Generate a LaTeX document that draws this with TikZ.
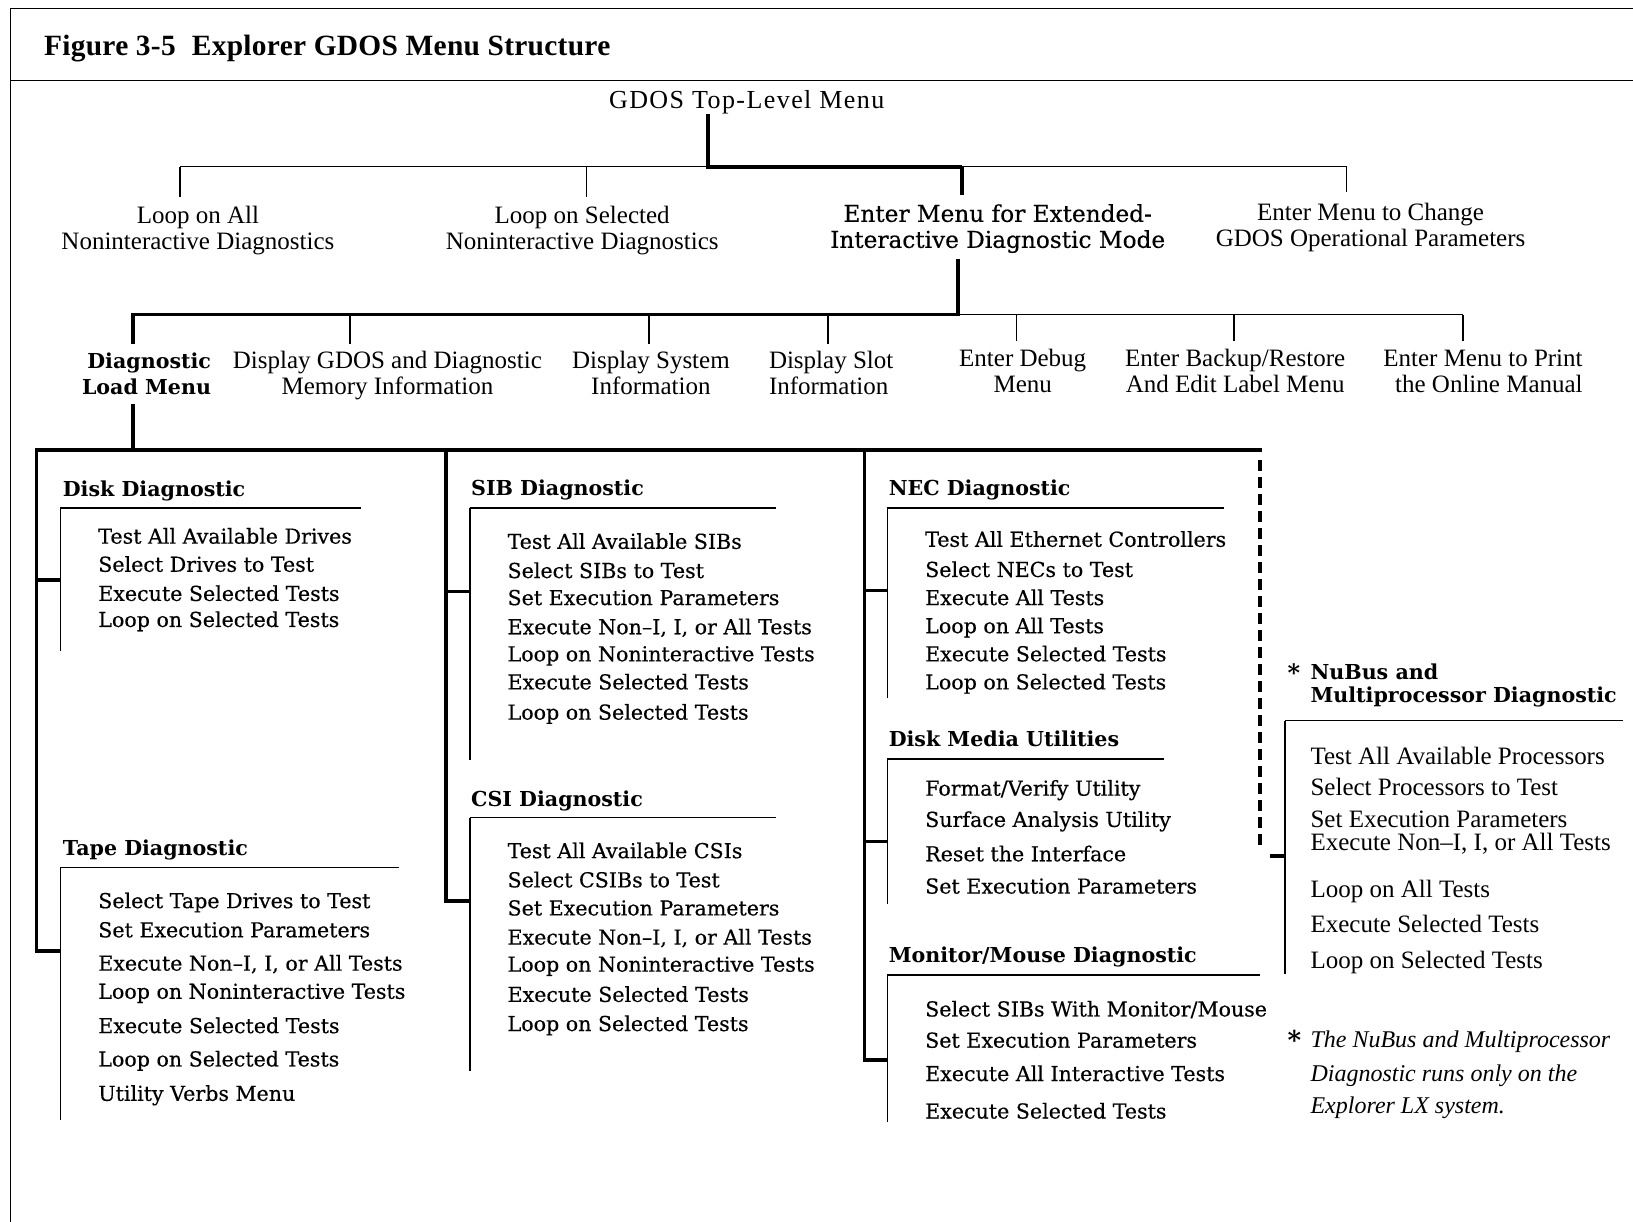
\documentclass[tikz,border=0pt]{standalone}
\usepackage{fontspec}
\setmainfont{Liberation Serif}
\newfontfamily\cent{DejaVu Serif}
\newfontfamily\centi[FakeBold=0.4]{DejaVu Serif}
\newfontfamily\rootf[LetterSpace=5.5]{Liberation Serif}
\newfontfamily\titlef[LetterSpace=1]{Liberation Serif}
\newcommand\twol[2]{#1\strut\\#2\strut}
\tikzset{
  x=0.52075pt, y=-0.52075pt,
  thinln/.style={line width=0.8pt},
  thickln/.style={line width=1.9pt},
  framel/.style={line width=0.6pt},
  dashln/.style={line width=2pt, dash pattern=on 5.5pt off 3pt},
  tms/.style={inner sep=0pt, align=center, font=\fontsize{12.5}{13}\selectfont},
  ctm/.style={inner sep=0pt, align=center, font=\centi\fontsize{11.6}{13}\selectfont},
  ctb/.style={inner sep=0pt, font=\cent\bfseries\fontsize{10.3}{13}\selectfont},
  hd/.style={inner sep=0pt, anchor=base west, font=\cent\bfseries\fontsize{10.3}{12}\selectfont},
  itm/.style={inner sep=0pt, anchor=base west, font=\centi\fontsize{10.3}{12}\selectfont},
  nit/.style={inner sep=0pt, anchor=base west, font=\fontsize{12.5}{13}\selectfont},
  fnt/.style={inner sep=0pt, anchor=base west, font=\itshape\fontsize{12}{13}\selectfont},
}
\begin{document}
\begin{tikzpicture}
\useasboundingbox (0,0) rectangle (1568,1173);
% frame
\draw[framel] (10,1173) -- (10,8) -- (1568,8);
\draw[framel] (10,77) -- (1568,77);
\node[anchor=base west, inner sep=0pt, font=\titlef\bfseries\fontsize{14.7}{16}\selectfont] (title) at (42,53) {Figure 3-5\hspace{0.55em}Explorer GDOS Menu Structure};

% root
\node[anchor=base, inner sep=0pt, font=\rootf\fontsize{13}{14}\selectfont] (root) at (717,104) {GDOS Top-Level Menu};

% level 1
\node[tms] (l1a) at (190,222.5) {\twol{Loop on All}{Noninteractive Diagnostics}};
\node[tms] (l1b) at (559,222.5) {\twol{Loop on Selected}{Noninteractive Diagnostics}};
\node[ctm] (l1c) at (958,220.5) {\twol{Enter Menu for Extended-}{Interactive Diagnostic Mode}};
\node[tms] (l1d) at (1316,219) {\twol{Enter Menu to Change}{GDOS Operational Parameters}};

\coordinate (rj) at (680,160);
\coordinate (b1l) at (173,160);
\coordinate (b1b) at (563,160);
\coordinate (b1c) at (924,160);
\coordinate (b1r) at (1293,160);
\draw[thinln] (b1l) -- (b1r);
\draw[thickln] (root.south -| rj) -- (rj) -- (b1c);
\draw[thinln] (b1l) -- ([yshift=4pt]l1a.north -| b1l);
\draw[thinln] (b1b) -- ([yshift=4pt]l1b.north -| b1b);
\draw[thickln] (b1c) -- ([yshift=4pt]l1c.north -| b1c);
\draw[thinln] (b1r) -- ([yshift=5pt]l1d.north -| b1r);

% level 2
\node[ctb, align=right, anchor=east] (l2a) at (203,361) {\twol{Diagnostic}{Load Menu}};
\node[tms] (l2b) at (372,361) {\twol{Display GDOS and Diagnostic}{Memory Information}};
\node[tms] (l2c) at (625,361) {\twol{Display System}{Information}};
\node[tms, align=left, anchor=west] (l2d) at (738,361) {\twol{Display Slot}{Information}};
\node[tms] (l2e) at (982,359) {\twol{Enter Debug}{Menu}};
\node[tms] (l2f) at (1186,359) {\twol{Enter Backup/Restore}{And Edit Label Menu}};
\node[tms, align=right, anchor=east] (l2g) at (1520,359) {\twol{Enter Menu to Print}{the Online Manual}};

\coordinate (c2) at (920,302);
\coordinate (b2a) at (128,302);
\coordinate (b2b) at (336,302);
\coordinate (b2c) at (623,302);
\coordinate (b2d) at (795,302);
\coordinate (b2e) at (976,302);
\coordinate (b2f) at (1185,302);
\coordinate (b2g) at (1405,302);
\draw[thinln] (c2) -- (b2g);
\draw[thickln] ([yshift=-1.5pt]l1c.south -| c2) -- (c2) -- (b2a) -- ([yshift=3pt]l2a.north -| b2a);
\foreach \n/\m in {b/b, c/c, d/d, e/e, f/f, g/g}
  \draw[thinln] (b2\n) -- ([yshift=3pt]l2\m.north -| b2\n);

% level 3 bus
\coordinate (b3) at (128,432);
\coordinate (bl) at (35,432);
\coordinate (bm) at (428,432);
\coordinate (bn) at (830,432);
\coordinate (br) at (1212,432);
\draw[thickln] ([yshift=-1pt]l2a.south -| b3) -- (b3);

% ---------- column 1 ----------
\node[hd] (hdisk) at (60,477) {Disk Diagnostic};
\coordinate (cdisk) at (58,488);
\draw[thinln] (cdisk) -- ++(289,0);
\draw[thinln] (cdisk) -- ++(0,137);
\foreach \yy/\tx [count=\i] in {522/Test All Available Drives, 549/Select Drives to Test, 577/Execute Selected Tests, 602/Loop on Selected Tests}
  \node[itm] (dk\i) at (94,\yy) {\tx};
\coordinate (sdisk) at (35,557);
\draw[thickln] (sdisk) -- (sdisk -| cdisk);

\node[hd] (htape) at (60,821) {Tape Diagnostic};
\coordinate (ctape) at (58,833);
\draw[thinln] (ctape) -- ++(325,0);
\draw[thinln] (ctape) -- ++(0,242);
\foreach \yy/\tx [count=\i] in {872/Select Tape Drives to Test, 900/Set Execution Parameters, {932/Execute Non–I, I, or All Tests}, 959/Loop on Noninteractive Tests, 992/Execute Selected Tests, 1024/Loop on Selected Tests, 1057/Utility Verbs Menu}
  \node[itm] (tp\i) at (94,\yy) {\tx};
\coordinate (stape) at (35,913);
\draw[thickln] (stape -| ctape) -- (stape) -- (bl) -- (br);

% ---------- column 2 ----------
\node[hd] (hsib) at (452,476) {SIB Diagnostic};
\coordinate (csib) at (451,488);
\draw[thinln] (csib) -- ++(294,0);
\draw[thinln] (csib) -- ++(0,242);
\foreach \yy/\tx [count=\i] in {527/Test All Available SIBs, 555/Select SIBs to Test, 581/Set Execution Parameters, {609/Execute Non–I, I, or All Tests}, 635/Loop on Noninteractive Tests, 662/Execute Selected Tests, 691/Loop on Selected Tests}
  \node[itm] (sb\i) at (487,\yy) {\tx};
\coordinate (ssib) at (428,568);
\draw[thickln] (ssib) -- (ssib -| csib);

\node[hd] (hcsi) at (452,774) {CSI Diagnostic};
\coordinate (ccsi) at (451,785);
\draw[thinln] (ccsi) -- ++(294,0);
\draw[thinln] (ccsi) -- ++(0,243);
\foreach \yy/\tx [count=\i] in {824/Test All Available CSIs, 852/Select CSIBs to Test, 879/Set Execution Parameters, {907/Execute Non–I, I, or All Tests}, 933/Loop on Noninteractive Tests, 962/Execute Selected Tests, 990/Loop on Selected Tests}
  \node[itm] (cs\i) at (487,\yy) {\tx};
\coordinate (scsi) at (428,865);
\draw[thickln] (scsi -| ccsi) -- (scsi) -- (bm);

% ---------- column 3 ----------
\node[hd] (hnec) at (853,476) {NEC Diagnostic};
\coordinate (cnec) at (852,488);
\draw[thinln] (cnec) -- ++(323,0);
\draw[thinln] (cnec) -- ++(0,182);
\foreach \yy/\tx [count=\i] in {525/Test All Ethernet Controllers, 554/Select NECs to Test, 581/Execute All Tests, 608/Loop on All Tests, 635/Execute Selected Tests, 662/Loop on Selected Tests}
  \node[itm] (nc\i) at (888,\yy) {\tx};
\coordinate (snec) at (830,567);
\draw[thickln] (snec) -- (snec -| cnec);

\node[hd] (hdmu) at (853,717) {Disk Media Utilities};
\coordinate (cdmu) at (852,729);
\draw[thinln] (cdmu) -- ++(266,0);
\draw[thinln] (cdmu) -- ++(0,139);
\foreach \yy/\tx [count=\i] in {764/{Format/Verify Utility}, 794/Surface Analysis Utility, 827/Reset the Interface, 858/Set Execution Parameters}
  \node[itm] (dm\i) at (888,\yy) {\tx};
\coordinate (sdmu) at (830,808);
\draw[thickln] (sdmu) -- (sdmu -| cdmu);

\node[hd] (hmm) at (853,924) {Monitor/Mouse Diagnostic};
\coordinate (cmm) at (852,936);
\draw[thinln] (cmm) -- ++(358,0);
\draw[thinln] (cmm) -- ++(0,141);
\foreach \yy/\tx [count=\i] in {976/{Select SIBs With Monitor/Mouse}, 1006/Set Execution Parameters, 1038/Execute All Interactive Tests, 1074/Execute Selected Tests}
  \node[itm] (mm\i) at (888,\yy) {\tx};
\coordinate (smm) at (830,1018);
\draw[thickln] (smm -| cmm) -- (smm) -- (bn);

% ---------- NuBus ----------
\coordinate (dtop) at (1210,442);
\coordinate (dbot) at (1210,812);
\draw[dashln] (dtop) -- (dbot);
\node[inner sep=0pt, anchor=base west, font=\cent\bfseries\fontsize{12}{12}\selectfont] (ast1) at (1236,654) {*};
\node[hd] (hnb1) at (1258,652) {NuBus and};
\node[hd] (hnb2) at (1258,675) {Multiprocessor Diagnostic};
\coordinate (cnb) at (1234,692);
\draw[thinln] (cnb) -- ++(324,0);
\draw[thinln] (cnb) -- ++(0,243);
\foreach \yy/\tx [count=\i] in {734/Test All Available Processors, 764/Select Processors to Test, 795/Set Execution Parameters, {817/Execute Non–I, I, or All Tests}, 862/Loop on All Tests, 895/Execute Selected Tests, 930/Loop on Selected Tests}
  \node[nit] (nb\i) at (1258,\yy) {\tx};
\coordinate (snb) at (1219,822);
\draw[thickln] (snb) -- (snb -| cnb);

% footnote
\node[inner sep=0pt, anchor=base west, font=\cent\bfseries\fontsize{13}{13}\selectfont] (ast2) at (1236,1008) {*};
\node[fnt] (fn1) at (1258,1006) {The NuBus and Multiprocessor};
\node[fnt] (fn2) at (1258,1038) {Diagnostic runs only on the};
\node[fnt] (fn3) at (1258,1069) {Explorer LX system.};
\end{tikzpicture}
\end{document}
